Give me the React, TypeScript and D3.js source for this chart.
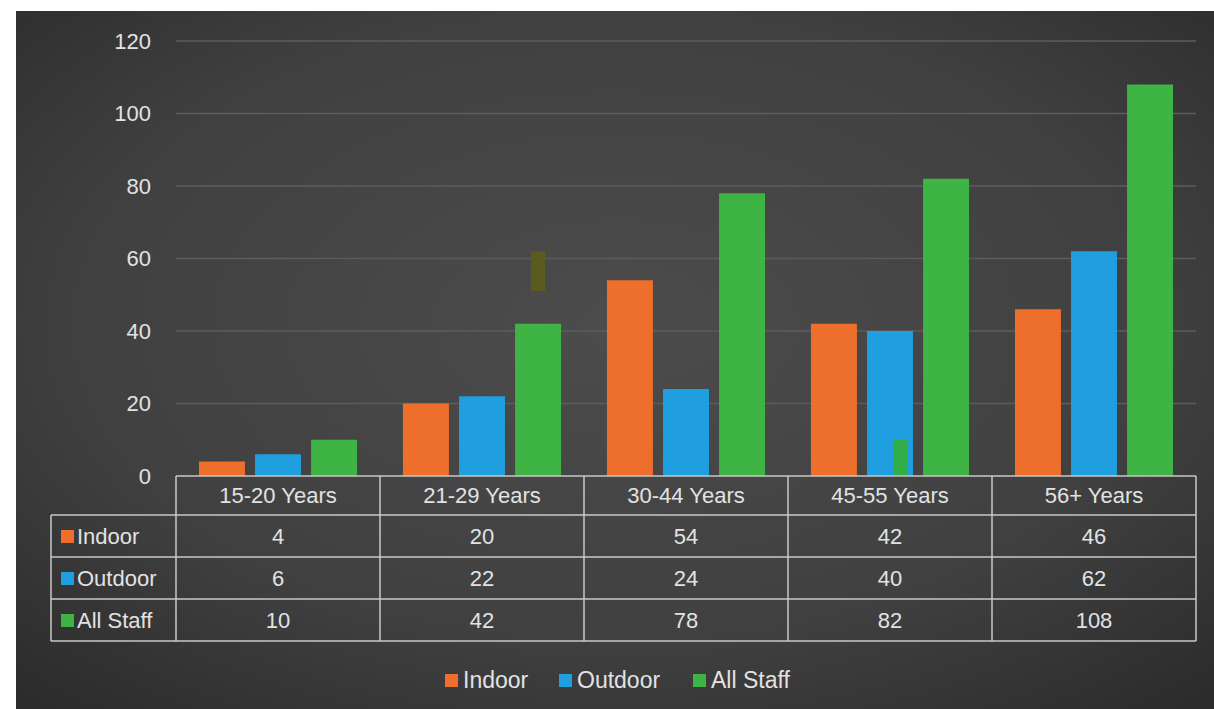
import React from "react";
import * as d3 from "d3";

// chart data
const categories = ["15-20 Years", "21-29 Years", "30-44 Years", "45-55 Years", "56+ Years"];
const seriesNames = ["Indoor", "Outdoor", "All Staff"];
const indoor = [4, 20, 54, 42, 46];
const outdoor = [6, 22, 24, 40, 62];
const allStaff = [10, 42, 78, 82, 108];
const yTicks = [0, 20, 40, 60, 80, 100, 120];
const colors = ["#ee6e2c", "#1f9fe0", "#3db444"];

// stray marks visible in the source picture (category, series, from, to)
const strays = [
  { cat: "21-29 Years", series: "All Staff", from: 51, to: 62, color: "#5b5a1f" },
  { cat: "45-55 Years", series: "Outdoor", from: 0, to: 10, color: "#2fae49" },
];

const W = 1214;
const H = 709;
const font = "'Liberation Sans', Arial, sans-serif";
const textColor = "#e2e2e2";

const App = () => {
  const values = [indoor, outdoor, allStaff];

  const x = d3.scaleBand<string>().domain(categories).range([176, 1196]);
  const inner = d3
    .scaleBand<string>()
    .domain(seriesNames)
    .range([0, x.bandwidth()])
    .paddingInner(0.18)
    .paddingOuter(0.41);
  const y = d3.scaleLinear().domain([0, 120]).range([476, 41]);

  // table rows
  const rowTop = 476;
  const headH = 39;
  const rowH = 42;
  const tableLeft = 51;
  const tableRight = x.range()[1];
  const tableBottom = rowTop + headH + rowH * 3;

  // legend layout
  const legendItems = [
    { name: "Indoor", x: 445 },
    { name: "Outdoor", x: 559 },
    { name: "All Staff", x: 693 },
  ];

  return (
    <svg width={W} height={H} style={{ position: "absolute", left: 0, top: 0 }}>
      <defs>
        <radialGradient id="bg" cx="0.5" cy="0.45" r="0.75">
          <stop offset="0" stopColor="#4c4c4c" />
          <stop offset="0.6" stopColor="#404040" />
          <stop offset="1" stopColor="#2a2a2a" />
        </radialGradient>
      </defs>
      <rect x={0} y={0} width={W} height={H} fill="#ffffff" />
      <rect x={16} y={11} width={W - 16} height={H - 11} fill="url(#bg)" />

      {/* grid + y labels */}
      {yTicks.map((t) => (
        <g key={t}>
          {t > 0 && (
            <line x1={176} x2={1196} y1={y(t)} y2={y(t)} stroke="#5c5c5c" strokeWidth={1.5} />
          )}
          <text
            x={151}
            y={y(t)}
            dy="0.35em"
            textAnchor="end"
            fill={textColor}
            fontSize={22}
            fontFamily={font}
          >
            {t}
          </text>
        </g>
      ))}

      {/* bars */}
      {values.map((vals, si) =>
        vals.map((v, ci) => (
          <rect
            key={`${si}-${ci}`}
            x={(x(categories[ci]) || 0) + (inner(seriesNames[si]) || 0)}
            y={y(v)}
            width={inner.bandwidth()}
            height={y(0) - y(v)}
            fill={colors[si]}
          />
        ))
      )}

      {strays.map((s, i) => {
        const bx = (x(s.cat) || 0) + (inner(s.series) || 0);
        const w = 14;
        const off = s.series === "Outdoor" ? inner.bandwidth() * 0.58 : (inner.bandwidth() - w) / 2;
        return (
          <rect key={i} x={bx + off} y={y(s.to)} width={w} height={y(s.from) - y(s.to)} fill={s.color} />
        );
      })}

      {/* data table */}
      <g stroke="#c9c9c9" strokeWidth={1.5} fill="none">
        <line x1={176} x2={tableRight} y1={rowTop} y2={rowTop} />
        {[0, 1, 2, 3].map((r) => (
          <line
            key={r}
            x1={tableLeft}
            x2={tableRight}
            y1={rowTop + headH + r * rowH}
            y2={rowTop + headH + r * rowH}
          />
        ))}
        <line x1={tableLeft} x2={tableLeft} y1={rowTop + headH} y2={tableBottom} />
        {categories.map((c) => (
          <line key={c} x1={x(c)} x2={x(c)} y1={rowTop} y2={tableBottom} />
        ))}
        <line x1={tableRight} x2={tableRight} y1={rowTop} y2={tableBottom} />
      </g>

      {categories.map((c) => (
        <text
          key={c}
          x={(x(c) || 0) + x.bandwidth() / 2}
          y={rowTop + headH / 2}
          dy="0.35em"
          textAnchor="middle"
          fill={textColor}
          fontSize={22}
          fontFamily={font}
        >
          {c}
        </text>
      ))}

      {values.map((vals, si) => {
        const cy = rowTop + headH + si * rowH + rowH / 2;
        return (
          <g key={si}>
            <rect x={tableLeft + 10} y={cy - 6} width={13} height={13} fill={colors[si]} />
            <text x={tableLeft + 26} y={cy} dy="0.35em" fill={textColor} fontSize={22} fontFamily={font}>
              {seriesNames[si]}
            </text>
            {vals.map((v, ci) => (
              <text
                key={ci}
                x={(x(categories[ci]) || 0) + x.bandwidth() / 2}
                y={cy}
                dy="0.35em"
                textAnchor="middle"
                fill={textColor}
                fontSize={22}
                fontFamily={font}
              >
                {v}
              </text>
            ))}
          </g>
        );
      })}

      {/* legend */}
      {legendItems.map((l, i) => (
        <g key={l.name}>
          <rect x={l.x} y={674} width={13} height={13} fill={colors[i]} />
          <text x={l.x + 18} y={680} dy="0.35em" fill={textColor} fontSize={23} fontFamily={font}>
            {l.name}
          </text>
        </g>
      ))}
    </svg>
  );
};

export default App;
